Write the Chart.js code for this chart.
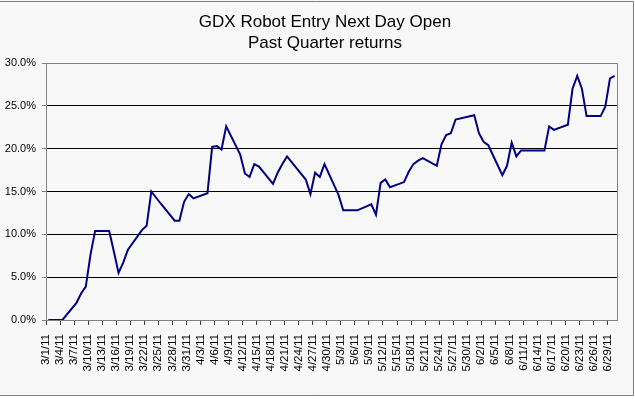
<!DOCTYPE html>
<html>
<head>
<meta charset="utf-8">
<script src="https://cdn.jsdelivr.net/npm/chart.js@4/dist/chart.umd.min.js"></script>
<style>
  body { margin: 0; background: #ffffff; }
  canvas { display: block; }
</style>
</head>
<body>
<canvas id="gdxChart" width="635" height="399"></canvas>
<script>
// Chart data
const titleLines = ['GDX Robot Entry Next Day Open', 'Past Quarter returns'];

const dates = [
  '3/1/11', '3/2/11', '3/3/11', '3/4/11', '3/7/11', '3/8/11', '3/9/11', '3/10/11', '3/11/11',
  '3/14/11', '3/15/11', '3/16/11', '3/17/11', '3/18/11', '3/21/11', '3/22/11', '3/23/11', '3/24/11',
  '3/25/11', '3/28/11', '3/29/11', '3/30/11', '3/31/11', '4/1/11', '4/4/11', '4/5/11', '4/6/11',
  '4/7/11', '4/8/11', '4/11/11', '4/12/11', '4/13/11', '4/14/11', '4/15/11', '4/18/11', '4/19/11',
  '4/20/11', '4/21/11', '4/25/11', '4/26/11', '4/27/11', '4/28/11', '4/29/11', '5/2/11', '5/3/11',
  '5/4/11', '5/5/11', '5/6/11', '5/9/11', '5/10/11', '5/11/11', '5/12/11', '5/13/11', '5/16/11',
  '5/17/11', '5/18/11', '5/19/11', '5/20/11', '5/23/11', '5/24/11', '5/25/11', '5/26/11', '5/27/11',
  '5/31/11', '6/1/11', '6/2/11', '6/3/11', '6/6/11', '6/7/11', '6/8/11', '6/9/11', '6/10/11',
  '6/13/11', '6/14/11', '6/15/11', '6/16/11', '6/17/11', '6/20/11', '6/21/11', '6/22/11', '6/23/11',
  '6/24/11', '6/27/11', '6/28/11', '6/29/11', '6/30/11'
];

// returns in percent
const returns = [
  0.0, 0.0, 0.0, 0.0, 2.0, 3.1, 3.9, 7.6, 10.4,
  10.4, 8.0, 5.5, 6.7, 8.2, 10.5, 11.0, 15.0, 14.3,
  13.6, 11.6, 11.6, 13.8, 14.7, 14.2, 14.8, 20.2, 20.3,
  19.9, 22.6, 19.3, 17.1, 16.7, 18.2, 17.9, 15.9, 17.2,
  18.2, 19.1, 16.4, 14.7, 17.2, 16.7, 18.2, 14.6, 12.8,
  12.8, 12.8, 12.8, 13.5, 12.3, 16.0, 16.4, 15.5, 16.1,
  17.3, 18.2, 18.6, 18.9, 18.0, 20.5, 21.6, 21.8, 23.4,
  23.9, 21.8, 20.8, 20.4, 16.9, 18.0, 20.7, 19.1, 19.8,
  19.8, 19.8, 19.8, 22.6, 22.2, 22.8, 27.0, 28.5, 27.0,
  23.8, 23.8, 24.9, 28.2, 28.5
];

const tickLabels = [
  '3/1/11', '3/4/11', '3/7/11', '3/10/11', '3/13/11', '3/16/11', '3/19/11', '3/22/11',
  '3/25/11', '3/28/11', '3/31/11', '4/3/11', '4/6/11', '4/9/11', '4/12/11', '4/15/11',
  '4/18/11', '4/21/11', '4/24/11', '4/27/11', '4/30/11', '5/3/11', '5/6/11', '5/9/11',
  '5/12/11', '5/15/11', '5/18/11', '5/21/11', '5/24/11', '5/27/11', '5/30/11', '6/2/11',
  '6/5/11', '6/8/11', '6/11/11', '6/14/11', '6/17/11', '6/20/11', '6/23/11', '6/26/11', '6/29/11'
];

const axisStart = '3/1/11';
const axisEnd = '7/1/11';

// days since axisStart
function dayOf(s) {
  const p = s.split('/').map(Number);
  const base = axisStart.split('/').map(Number);
  const t = Date.UTC(2000 + p[2], p[0] - 1, p[1]);
  const t0 = Date.UTC(2000 + base[2], base[0] - 1, base[1]);
  return Math.round((t - t0) / 86400000);
}

// each day sits in the middle of its slot, like the Excel date axis
const points = dates.map((d, i) => ({ x: dayOf(d) + 0.5, y: returns[i] }));

const FONT = '"Liberation Sans", Arial, sans-serif';

const sheetBackground = {
  id: 'sheetBackground',
  beforeDraw(chart) {
    const c = chart.ctx;
    c.save();
    c.fillStyle = '#ffffff';
    c.fillRect(0, 0, chart.width, chart.height);
    c.fillStyle = '#f8f8f8';
    c.fillRect(0, 0, 633, 395);
    c.strokeStyle = '#808080';
    c.lineWidth = 1;
    c.beginPath();
    c.moveTo(0, 1.5); c.lineTo(633.5, 1.5);
    c.lineTo(633.5, 395.5); c.lineTo(0, 395.5);
    c.stroke();
    c.restore();
  }
};

const plotFrame = {
  id: 'plotFrame',
  afterDatasetsDraw(chart) {
    const a = chart.chartArea;
    const c = chart.ctx;
    c.save();
    c.strokeStyle = '#808080';
    c.lineWidth = 1;
    c.beginPath();
    c.moveTo(Math.round(a.left) + 0.5, Math.round(a.top) + 0.5);
    c.lineTo(Math.round(a.right) + 0.5, Math.round(a.top) + 0.5);
    c.lineTo(Math.round(a.right) + 0.5, Math.round(a.bottom) + 0.5);
    c.stroke();
    c.restore();
  },
  afterDraw(chart) {
    const c = chart.ctx;
    c.save();
    c.fillStyle = '#000000';
    c.font = '17px ' + FONT;
    c.textAlign = 'center';
    c.textBaseline = 'middle';
    c.fillText(titleLines[0], 325, 22);
    c.fillText(titleLines[1], 325, 43);
    c.restore();
  }
};

const ctx = document.getElementById('gdxChart').getContext('2d');
const gdxChart = new Chart(ctx, {
  type: 'line',
  data: {
    datasets: [{
      label: 'Past Quarter returns',
      data: points,
      borderColor: '#000080',
      borderWidth: 2,
      pointRadius: 0,
      tension: 0,
      fill: false
    }]
  },
  options: {
    responsive: false,
    devicePixelRatio: 1,
    animation: false,
    layout: { padding: { top: 63, left: 0, right: 18, bottom: 0 } },
    plugins: {
      legend: { display: false },
      tooltip: { enabled: false },
      title: { display: false }
    },
    scales: {
      x: {
        type: 'linear',
        min: dayOf(axisStart),
        max: dayOf(axisEnd),
        afterBuildTicks(scale) {
          scale.ticks = tickLabels.map(l => ({ value: dayOf(l) }));
        },
        afterFit(scale) { scale.height = 79; },
        grid: {
          drawOnChartArea: false,
          tickLength: 5,
          tickColor: '#404040'
        },
        border: { color: '#808080' },
        ticks: {
          autoSkip: false,
          minRotation: 90,
          maxRotation: 90,
          padding: 9,
          color: '#000000',
          font: { family: FONT, size: 11.5 },
          callback: (v, i) => tickLabels[i]
        }
      },
      y: {
        min: 0,
        max: 30,
        afterFit(scale) { scale.width = 46; },
        grid: {
          color: c => (c.tick && (c.tick.value === 0 || c.tick.value === 30)) ? 'rgba(0,0,0,0)' : '#000000',
          tickColor: '#808080',
          tickLength: 4
        },
        border: { color: '#808080' },
        ticks: {
          stepSize: 5,
          padding: 6,
          color: '#000000',
          font: { family: FONT, size: 11 },
          callback: v => v.toFixed(1) + '%'
        }
      }
    }
  },
  plugins: [sheetBackground, plotFrame]
});
</script>
</body>
</html>
